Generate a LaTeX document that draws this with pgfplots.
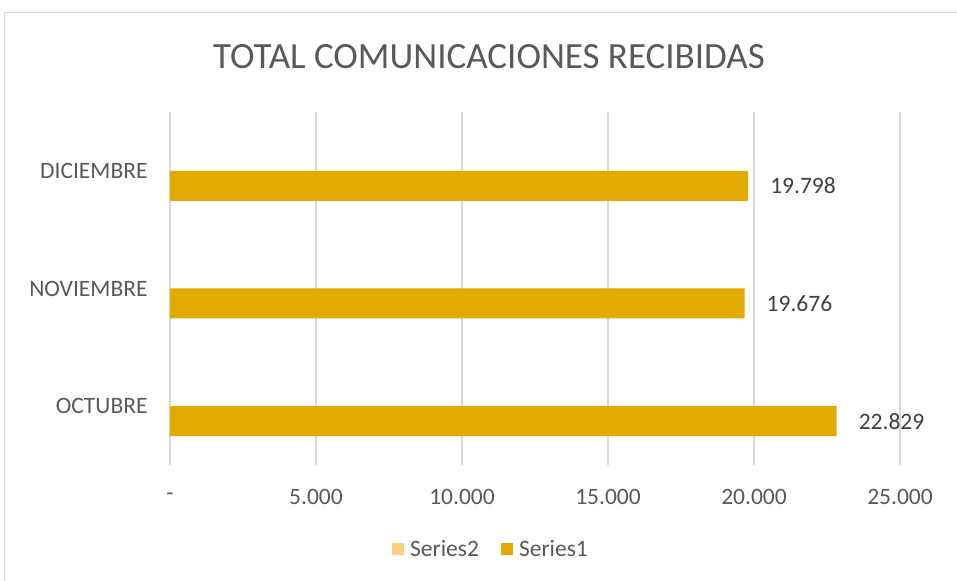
\documentclass[border=0pt]{standalone}
\usepackage{fontspec}
\setmainfont{Carlito}
\usepackage{pgfplots}
\pgfplotsset{compat=1.18}
\definecolor{barc}{HTML}{E3AA00}
\definecolor{sertwo}{HTML}{FFCC80}
\definecolor{txt}{HTML}{595959}
\definecolor{lbl}{HTML}{404040}
\definecolor{gridc}{HTML}{D9D9D9}
\newcommand{\f}{\fontsize{23.5bp}{27bp}\selectfont}
\begin{document}
\begin{tikzpicture}
\path[use as bounding box] (-170bp,-116bp) rectangle (787bp,465bp);
\draw[gridc, line width=1.2bp] (-165.5bp,-130bp) rectangle (800bp,452.5bp);
\begin{axis}[
  at={(0,0)}, anchor=south west,
  scale only axis, width=730bp, height=353bp,
  xbar, xmin=0, xmax=25000, ymin=-0.5, ymax=2.5,
  bar width=30bp,
  scaled x ticks=false,
  ytick={0,1,2}, yticklabels={OCTUBRE,NOVIEMBRE,DICIEMBRE},
  xtick={0,5000,10000,15000,20000,25000},
  xticklabels={-,5.000,10.000,15.000,20.000,25.000},
  xmajorgrids, grid style={color=gridc, line width=1.3bp},
  axis line style={draw=none}, major tick style={draw=none},
  xticklabel style={anchor=center, yshift=-32bp, font=\f, text=txt, inner sep=0pt},
  yticklabel style={anchor=east, xshift=-18bp, font=\f, text=txt, inner sep=0pt},
  /pgf/number format/.cd, 1000 sep={.}, assume math mode=true, /pgfplots/.cd,
  nodes near coords,
  nodes near coords style={anchor=west, xshift=22bp, font=\f, text=lbl, inner sep=0pt},
  legend columns=2,
  legend style={at={(0.4384,-0.238)}, anchor=center, draw=none, fill=none,
    font=\f, text=txt, column sep=6bp, inner sep=0pt,
    nodes={inner sep=0pt},
    /tikz/every even column/.append style={column sep=22bp}},
  legend image code/.code={\fill[#1] (0bp,-6bp) rectangle (12bp,6bp);},
]
\addlegendimage{fill=sertwo, draw=none}
\addlegendentry{Series2}
\addplot[fill=barc, draw=none, bar shift=-15bp] table[x=v, y=c] {
c v
0 22829
1 19676
2 19798
};
\addlegendentry{Series1}
\end{axis}
\node[font=\fontsize{37bp}{42bp}\selectfont, text=txt, inner sep=0pt] at (319bp,408bp) {TOTAL COMUNICACIONES RECIBIDAS};
\end{tikzpicture}
\end{document}
